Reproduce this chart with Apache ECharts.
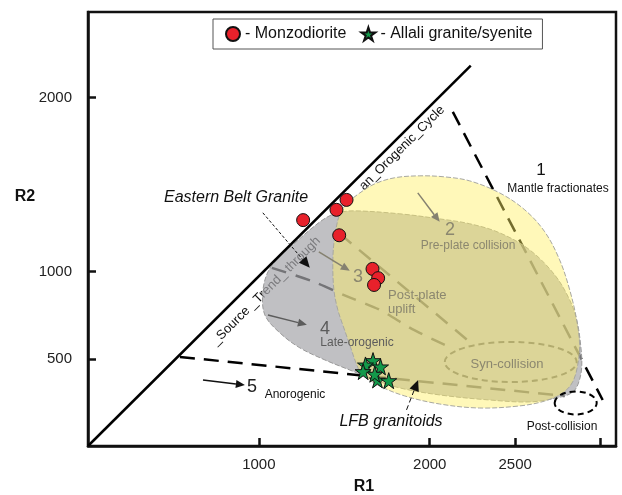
<!DOCTYPE html>
<html><head><meta charset="utf-8">
<script src="https://cdn.jsdelivr.net/npm/echarts@6/dist/echarts.min.js"></script>
<style>html,body{margin:0;padding:0;background:#fff}#c{width:622px;height:495px}</style>
</head><body><div id="c"></div>
<script>
// ---------- data (R1, R2 units) ----------
const xTicks = [1000, 2000, 2500, 3000];
const xTickLabels = [1000, 2000, 2500];
const yTicks = [500, 1000, 2000];

const monzoR1 = [1259, 1454, 1513, 1470, 1665, 1698, 1674];
const monzoR2 = [1296, 1355, 1412, 1209, 1016, 963, 924];
const allaliR1 = [1668, 1624, 1610, 1712, 1694, 1760, 1678];
const allaliR2 = [490, 465, 427, 454, 379, 375, 412];

const sourceTrendLine = [[0, 0], [2240, 2182]];
const mantleBoundary = [[2135, 1917], [3012, 264]];
const anorogenicBoundary = [[538, 511], [2789, 287]];
const boundary23 = [[1474, 1217], [2234, 597]];
const boundary34 = [[1076, 1022], [1322, 942], [1509, 861], [1708, 781], [1895, 672], [2088, 580]];
const synCollisionCenter = [2474, 482];
const synCollisionRadii = [386, 115];
const postCollisionCenter = [2854, 247];
const postCollisionRadii = [123, 66];

const easternBeltField = [[1462,1338],[1392,1309],[1298,1240],[1211,1165],[1123,1091],[1053,999],[1023,884],[1035,752],[1123,649],[1240,563],[1386,494],[1532,436],[1678,379],[1825,333],[2058,293],[2351,264],[2585,253],[2743,276],[2830,304],[2866,350],[2889,448],[2883,580],[2860,723],[2819,838],[2731,982],[2585,1125],[2409,1223],[2234,1275],[2058,1303],[1825,1332],[1561,1349]];
const lfbField = [[1474,1332],[1520,1395],[1591,1452],[1678,1504],[1795,1539],[1942,1550],[2088,1544],[2234,1521],[2409,1452],[2556,1355],[2673,1229],[2760,1068],[2819,896],[2860,723],[2877,580],[2866,465],[2836,367],[2778,304],[2673,258],[2526,230],[2292,218],[2058,241],[1854,287],[1708,344],[1602,413],[1573,465],[1532,580],[1491,695],[1462,781],[1439,896],[1433,1068],[1444,1200]];

const arrow5 = [[673, 379], [918, 350]];
const arrow4 = [[1053, 752], [1281, 695]];
const arrow3 = [[1351, 1114], [1532, 1005]];
const arrow2 = [[1930, 1452], [2058, 1286]];
const arrowEastern = [[1023, 1338], [1298, 1022]];
const arrowLFB = [[1864, 207], [1932, 379]];

// ---------- helpers ----------
const FONT = "'Liberation Sans', Arial, sans-serif";
const STAR = 'path://M50,2 L61.2,36.5 L97.6,36.5 L68.2,57.9 L79.4,92.4 L50,71 L20.6,92.4 L31.8,57.9 L2.4,36.5 L38.8,36.5 Z';

function pline(api, pts, color, w, dash, smooth) {
  return {type: 'polyline', shape: {points: pts.map(p => api.coord(p)), smooth: smooth || 0},
    style: {stroke: color, lineWidth: w, lineDash: dash || null, fill: null}};
}
function ellipse(api, c, r, color, w, dash) {
  const p = api.coord(c), s = api.size(r);
  return {type: 'ellipse', shape: {cx: p[0], cy: p[1], rx: s[0], ry: s[1]},
    style: {stroke: color, fill: null, lineWidth: w, lineDash: dash}};
}
function arrow(api, pts, color, w, dash, head) {
  const a = api.coord(pts[0]), b = api.coord(pts[1]);
  const dx = b[0] - a[0], dy = b[1] - a[1], L = Math.hypot(dx, dy);
  const ux = dx / L, uy = dy / L, nx = -uy, ny = ux;
  const hl = head || 9, hw = hl * 0.45;
  const cx = b[0] - ux * hl, cy = b[1] - uy * hl;
  return [
    {type: 'line', shape: {x1: a[0], y1: a[1], x2: cx, y2: cy}, style: {stroke: color, lineWidth: w, lineDash: dash || null}},
    {type: 'polygon', shape: {points: [[b[0], b[1]], [cx + nx * hw, cy + ny * hw], [cx - nx * hw, cy - ny * hw]]}, style: {fill: color}}
  ];
}
const txt = (x, y, text, font, fill, z, align, rot) => ({type: 'text', x, y, z, rotation: rot || 0,
  style: {text, font: font + ' ' + FONT, fill, align: align || 'center', verticalAlign: 'middle'}});

const option = {
  animation: false,
  backgroundColor: '#fff',
  grid: {left: 88, right: 6, top: 12, bottom: 49, show: true, borderColor: '#111', borderWidth: 2.5, containLabel: false},
  xAxis: {
    type: 'value', min: 0, max: 3090,
    splitLine: {show: false},
    axisLine: {show: true, lineStyle: {color: '#111', width: 2.5}},
    axisTick: {show: true, inside: true, length: 8, lineStyle: {color: '#111', width: 2.5}, customValues: xTicks},
    axisLabel: {customValues: xTickLabels, formatter: v => String(v), margin: 11, fontSize: 15, color: '#222', fontFamily: FONT}
  },
  yAxis: {
    type: 'value', min: 0, max: 2490,
    splitLine: {show: false},
    axisLine: {show: true, lineStyle: {color: '#111', width: 2.5}},
    axisTick: {show: true, inside: true, length: 8, lineStyle: {color: '#111', width: 2.5}, customValues: yTicks},
    axisLabel: {customValues: yTicks, formatter: v => String(v), margin: 16, fontSize: 15, color: '#222', fontFamily: FONT}
  },
  legend: {
    left: 213, top: 19, padding: [7, 10, 7, 12], itemGap: 14, itemWidth: 14, itemHeight: 14,
    borderColor: '#555', borderWidth: 1, backgroundColor: '#fff',
    formatter: n => '- ' + n,
    textStyle: {fontSize: 16, color: '#111', fontFamily: FONT},
    data: ['Monzodiorite', 'Allali granite/syenite']
  },
  graphic: [
    txt(266, 291, '_Source _Trend_ through', '13px', '#111', 1, 'center', 0.782),
    txt(402, 148, 'an_Orogenic_Cycle', '13px', '#111', 1, 'center', 0.782),
    txt(541, 170, '1', '17px', '#111', 10),
    txt(558, 189, 'Mantle fractionates', '12px', '#111', 10),
    txt(450, 230, '2', '18px', '#8b876f', 10),
    txt(468, 246, 'Pre-plate collision', '12px', '#8b876f', 10),
    txt(358, 277, '3', '18px', '#8b876f', 10),
    txt(388, 295, 'Post-plate', '13px', '#8b876f', 10, 'left'),
    txt(388, 309, 'uplift', '13px', '#8b876f', 10, 'left'),
    txt(325, 329, '4', '18px', '#5c5c5c', 10),
    txt(357, 343, 'Late-orogenic', '12px', '#5c5c5c', 10),
    txt(252, 387, '5', '18px', '#222', 10),
    txt(295, 395, 'Anorogenic', '12px', '#111', 10),
    txt(507, 364, 'Syn-collision', '13px', '#8b876f', 10),
    txt(562, 427, 'Post-collision', '12px', '#111', 10),
    txt(236, 198, 'Eastern Belt Granite', 'italic 16px', '#111', 10),
    txt(391, 422, 'LFB granitoids', 'italic 16px', '#111', 10),
    txt(364, 487, 'R1', 'bold 16px', '#111', 10),
    txt(25, 197, 'R2', 'bold 16px', '#111', 10)
  ],
  series: [
    { // boundaries drawn beneath the translucent fields
      type: 'custom', name: 'boundaries', z: 1, silent: true, data: [0],
      renderItem: (params, api) => ({type: 'group', children: [
        pline(api, mantleBoundary, '#000', 2.5, [15, 9]),
        pline(api, anorogenicBoundary, '#000', 2.5, [15, 9]),
        pline(api, boundary23, '#000', 2.5, [15, 10]),
        pline(api, boundary34, '#000', 2.5, [15, 10], 0.3),
        ellipse(api, synCollisionCenter, synCollisionRadii, '#000', 2, [6, 4])
      ]})
    },
    { // granite fields
      type: 'custom', name: 'fields', z: 2, silent: true, data: [0],
      renderItem: (params, api) => ({type: 'group', children: [
        {type: 'polygon', z2: 1, shape: {points: easternBeltField.map(p => api.coord(p)), smooth: 0.35},
          style: {fill: 'rgba(165,165,170,0.7)', stroke: '#9a9a9a', lineWidth: 1, lineDash: [5, 2]}},
        {type: 'polygon', z2: 2, shape: {points: lfbField.map(p => api.coord(p)), smooth: 0.35},
          style: {fill: 'rgba(255,239,100,0.45)', stroke: '#a8a8a0', lineWidth: 1, lineDash: [5, 2]}}
      ]})
    },
    { // lines and arrows on top
      type: 'custom', name: 'overlay', z: 3, silent: true, data: [0],
      renderItem: (params, api) => ({type: 'group', children: [
        pline(api, sourceTrendLine, '#000', 2.5),
        ellipse(api, postCollisionCenter, postCollisionRadii, '#000', 2, [6, 4]),
        ...arrow(api, arrow5, '#111', 1.5),
        ...arrow(api, arrow4, '#5c5c5c', 1.5),
        ...arrow(api, arrow3, '#858170', 1.5),
        ...arrow(api, arrow2, '#858170', 1.5),
        ...arrow(api, arrowEastern, '#111', 1, [3, 2], 11),
        ...arrow(api, arrowLFB, '#111', 1, [5, 3], 11)
      ]})
    },
    {
      type: 'scatter', name: 'Monzodiorite', z: 5, symbol: 'circle', symbolSize: 13,
      itemStyle: {color: '#e8212b', borderColor: '#111', borderWidth: 1, opacity: 1},
      data: monzoR1.map((v, i) => [v, monzoR2[i]])
    },
    {
      type: 'scatter', name: 'Allali granite/syenite', z: 5, symbol: STAR, symbolSize: 16,
      itemStyle: {color: '#13994a', borderColor: '#111', borderWidth: 1, opacity: 1},
      data: allaliR1.map((v, i) => [v, allaliR2[i]])
    }
  ]
};
const chart = echarts.init(document.getElementById('c'));
chart.setOption(option);
</script>
</body></html>
